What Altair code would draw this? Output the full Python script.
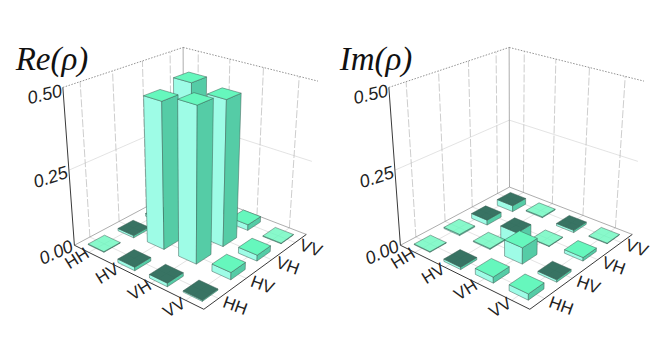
import numpy as np
import pandas as pd
import altair as alt

# Category labels and bar values (negative bars hang below the floor, with a dark top)
states = ["HH", "HV", "VH", "VV"]
re_rows = [
    [0.002, -0.008, -0.010, 0.002],
    [-0.012, 0.470, 0.490, 0.012],
    [-0.012, 0.490, 0.470, 0.020],
    [-0.004, 0.024, 0.020, 0.002],
]
im_rows = [
    [0.002, 0.004, -0.018, -0.022],
    [-0.008, 0.003, -0.047, 0.003],
    [0.020, 0.055, 0.002, -0.008],
    [0.020, -0.008, 0.012, 0.002],
]
z_ticks = [0.0, 0.25, 0.5]
z_tick_angles = [336, 342, 347]
z_max = 0.5
panel_shift = {"Re(ρ)": 0, "Im(ρ)": 326}
title_pos = {"Re(ρ)": (52, 60), "Im(ρ)": (376, 60)}

# Camera: 3D cube corners (floor u, floor v, height) and where they appear
cube_corners = [(0, 0, 0), (1, 0, 0), (1, 1, 0), (0, 1, 0), (0, 0, 1), (0, 1, 1), (1, 1, 1)]
screen_corners = [(75, 245), (203, 310), (307, 233), (183, 188), (63, 87), (183, 47), (318, 82)]

rows_a, rows_b = [], []
for (X, Y, Z), (sx, sy) in zip(cube_corners, screen_corners):
    rows_a.append([X, Y, Z, 1, 0, 0, 0, 0, -sx * X, -sx * Y, -sx * Z])
    rows_b.append(sx)
    rows_a.append([0, 0, 0, 0, X, Y, Z, 1, -sy * X, -sy * Y, -sy * Z])
    rows_b.append(sy)
cam = np.append(np.linalg.lstsq(np.array(rows_a, float), np.array(rows_b, float), rcond=None)[0], 1).reshape(3, 4)


def project(u, v, w, dx=0):
    p = cam @ np.array([u, v, w, 1.0])
    return p[0] / p[2] + dx, p[1] / p[2]


TOP, DARK, LEFT, RIGHT = "#66f7bd", "#276756", "#9efce6", "#55cca6"
BAR = 0.54 / 4
polys, lines = [], []
pid = 0


def add_poly(corners, fill, op, dx):
    global pid
    pid += 1
    for k, c in enumerate(corners):
        x, y = project(*c, dx)
        polys.append({"x": x, "y": y, "pid": pid, "k": k, "fill": fill, "op": op})


def add_line(a, b, style, dx):
    global pid
    pid += 1
    for k, c in enumerate((a, b)):
        x, y = project(*c, dx)
        lines.append({"x": x, "y": y, "pid": pid, "k": k, "style": style})


texts = []
for name, rows in (("Re(ρ)", re_rows), ("Im(ρ)", im_rows)):
    dx = panel_shift[name]
    # walls and floor
    for n in range(4):
        c = (n + 0.5) / 4
        add_line((c, 0, 0), (c, 1, 0), "floor", dx)
        add_line((0, c, 0), (1, c, 0), "floor", dx)
        add_line((0, c, 0), (0, c, 1), "dash", dx)
        add_line((c, 1, 0), (c, 1, 1), "dash", dx)
    add_line((0, 0, 0.5), (0, 1, 0.5), "floor", dx)
    add_line((0, 1, 0.5), (1, 1, 0.5), "floor", dx)
    add_line((0, 0, 1), (0, 1, 1), "dot", dx)
    add_line((0, 1, 1), (1, 1, 1), "dot", dx)
    add_line((0, 1, 0), (0, 1, 1), "back", dx)
    add_line((0, 0, 0), (0, 1, 0), "back", dx)
    add_line((0, 1, 0), (1, 1, 0), "back", dx)
    add_line((0, 0, 0), (0, 0, 1), "axis", dx)
    add_line((0, 0, 0), (1, 0, 0), "axis", dx)
    add_line((1, 0, 0), (1, 1, 0), "axis", dx)
    # bars, back to front
    for i in range(4):
        for j in range(3, -1, -1):
            val = rows[i][j]
            lo, hi = (val / z_max, 0) if val < 0 else (0, val / z_max)
            cu, cv = (i + 0.5) / 4, (j + 0.5) / 4
            u0, u1, v0, v1 = cu - BAR / 2, cu + BAR / 2, cv - BAR / 2, cv + BAR / 2
            if val < 0:
                top_fill, op = DARK, 0.92
            else:
                top_fill, op = TOP, 0.78 if val < 0.005 else 1
            add_poly([(u0, v0, lo), (u1, v0, lo), (u1, v0, hi), (u0, v0, hi)], LEFT, 1, dx)
            add_poly([(u1, v0, lo), (u1, v1, lo), (u1, v1, hi), (u1, v0, hi)], RIGHT, 1, dx)
            add_poly([(u0, v0, hi), (u1, v0, hi), (u1, v1, hi), (u0, v1, hi)], top_fill, op, dx)
    # texts
    tx, ty = title_pos[name]
    texts.append({"x": tx, "y": ty, "t": name, "kind": "title", "a": 0})
    for tick, ang in zip(z_ticks, z_tick_angles):
        x, y = project(0, 0, tick / z_max, dx)
        texts.append({"x": x - 18, "y": y + 8, "t": f"{tick:.2f}", "kind": "z", "a": ang})
    for n, s in enumerate(states):
        x, y = project((n + 0.5) / 4, -0.09, 0, dx)
        texts.append({"x": x, "y": y, "t": s, "kind": "left", "a": 328})
        x, y = project(1.11, (n + 0.5) / 4, 0, dx)
        texts.append({"x": x, "y": y, "t": s, "kind": "right", "a": 20})

poly_df = pd.DataFrame(polys)
line_df = pd.DataFrame(lines)
text_df = pd.DataFrame(texts)

X = alt.X("x:Q", axis=None, scale=alt.Scale(domain=[8, 656], nice=False, zero=False))
Y = alt.Y("y:Q", axis=None, scale=alt.Scale(domain=[341, 8], nice=False, zero=False))


def line_layer(style, color, width, dash=None):
    kw = {"strokeDash": dash} if dash else {}
    return alt.Chart(line_df[line_df["style"] == style]).mark_line(
        color=color, strokeWidth=width, **kw
    ).encode(x=X, y=Y, detail="pid:N", order="k:Q")


def text_layer(kind, **kw):
    return alt.Chart(text_df[text_df["kind"] == kind]).mark_text(**kw).encode(
        x=X, y=Y, text="t:N", angle=alt.Angle("a:Q", scale=None)
    )


bars = alt.Chart(poly_df).mark_line(
    interpolate="linear-closed", stroke="#3d5f55", strokeWidth=0.5
).encode(
    x=X, y=Y, detail="pid:N", order="k:Q",
    fill=alt.Fill("fill:N", scale=None),
    fillOpacity=alt.FillOpacity("op:Q", scale=None),
)

chart = alt.layer(
    line_layer("floor", "#dcdcdc", 0.8),
    line_layer("dash", "#b8b8b8", 0.7, [8, 2]),
    line_layer("dot", "#777777", 0.8, [1.5, 1.5]),
    line_layer("back", "#8a8a8a", 0.7),
    line_layer("axis", "#222222", 0.9),
    bars,
    text_layer("title", font="Liberation Serif", fontStyle="italic", fontSize=33, color="#111111"),
    text_layer("z", font="Liberation Sans", fontStyle="italic", fontSize=18, color="#222222"),
    text_layer("left", font="Liberation Sans", fontSize=17, color="#222222"),
    text_layer("right", font="Liberation Sans", fontSize=17, color="#222222"),
).properties(width=648, height=333, padding=0, autosize=alt.AutoSizeParams(type="none")).configure_view(stroke=None)

chart.save("out.html", embed_options={"renderer": "svg", "actions": False})
